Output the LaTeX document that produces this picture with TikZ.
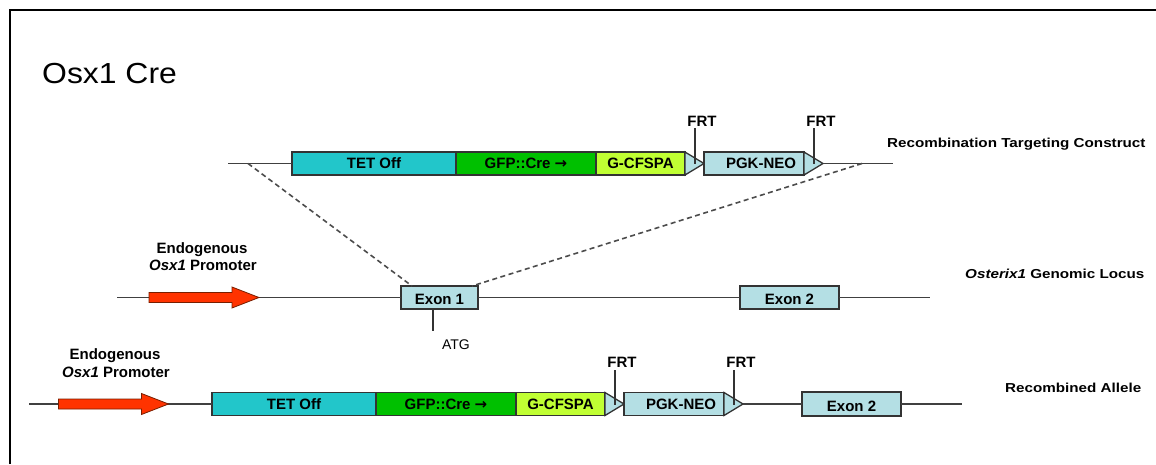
\documentclass[tikz,border=0pt]{standalone}
\usepackage{fontspec}
\usepackage{graphicx}
\setmainfont{Liberation Sans}
\newfontfamily\arrowfont{DejaVu Sans}
\usetikzlibrary{calc}

\definecolor{tetcol}{RGB}{34,198,202}
\definecolor{gfpcol}{RGB}{0,192,0}
\definecolor{pacol}{RGB}{192,255,51}
\definecolor{neocol}{RGB}{180,223,228}
\definecolor{promred}{RGB}{255,51,0}
\definecolor{promedge}{RGB}{120,30,0}
\definecolor{edgecol}{RGB}{51,51,51}
\definecolor{dnacol}{RGB}{64,64,64}

% horizontally widened text
\newcommand{\stretchx}[2]{\scalebox{#1}[1]{#2}}
% bold right arrow after the Cre label
\newcommand{\rarr}{{\arrowfont\bfseries →}}

\begin{document}
\begin{tikzpicture}[x=1pt,y=-1pt,
  box/.style={rectangle, draw=edgecol, line width=1.3pt, minimum height=23pt,
    inner sep=0pt, outer sep=0pt, anchor=west, font=\fontsize{15}{17}\selectfont\bfseries},
  exon/.style={box, fill=neocol, text height=14pt, text depth=0pt},
  frttri/.style={draw=edgecol, line width=1.3pt, fill=neocol, line join=miter},
  dna/.style={draw=dnacol, line width=1.3pt},
  tick/.style={draw=black!80, line width=1.3pt},
  cross/.style={draw=black!70, line width=1.6pt, dash pattern=on 5pt off 3.5pt},
  lbl/.style={inner sep=0pt, anchor=base, font=\fontsize{15}{17}\selectfont\bfseries},
  side/.style={inner sep=0pt, anchor=base west, font=\fontsize{13}{15}\selectfont\bfseries},
  promoter/.pic={\path[fill=promred, draw=promedge, line width=0.8pt]
    (-55,-5) -- (28,-5) -- (28,-10.5) -- (55,0) -- (28,10.5) -- (28,5) -- (-55,5) -- cycle;}
]
\useasboundingbox (0,0) rectangle (1156,464);

% frame
\draw[line width=2.5pt] (10,464) -- (10,10) -- (1156,10);

% title
\node[inner sep=0pt, anchor=base west, font=\fontsize{29}{32}\selectfont]
  (title) at (42,83) {\stretchx{1.1}{Osx1 Cre}};

% ---------- targeting construct ----------
\coordinate (c1start) at (228,163.5);
\coordinate (c1end) at (893,163.5);
\coordinate (cut1) at (248,163.5);
\coordinate (cut2) at (862,163.5);
\node[box, fill=tetcol, minimum width=164pt] (tet1) at (292,163.5) {TET Off};
\node[box, fill=gfpcol, minimum width=140pt] (gfp1) at (tet1.east) {GFP::Cre \rarr};
\node[box, fill=pacol, minimum width=89pt] (pa1) at (gfp1.east) {G-CFSPA};
\coordinate (f1tip) at ($(pa1.east)+(19,0)$);
\draw[frttri] (pa1.north east) -- (f1tip) -- (pa1.south east) -- cycle;
\node[box, fill=neocol, minimum width=100pt] (neo1) at (f1tip) {\hspace*{14pt}PGK-NEO};
\coordinate (f2tip) at ($(neo1.east)+(19,0)$);
\draw[frttri] (neo1.north east) -- (f2tip) -- (neo1.south east) -- cycle;
\draw[dna] (c1start) -- (tet1.west);
\draw[dna] (f2tip) -- (c1end);
\coordinate (frt1top) at (695,128);
\coordinate (frt1bot) at (695,164);
\coordinate (frt2top) at (814,128);
\coordinate (frt2bot) at (814,164);
\draw[tick] (frt1top) -- (frt1bot);
\draw[tick] (frt2top) -- (frt2bot);
\node[lbl] (frt1) at (702,126) {FRT};
\node[lbl] (frt2) at (821,126) {FRT};
\node[side] (construct) at (887,147) {\stretchx{1.17}{Recombination Targeting Construct}};

% ---------- genomic locus ----------
\coordinate (g2start) at (117,297.5);
\coordinate (g2end) at (930,297.5);
\node[exon, minimum width=77pt] (ex1) at (401,297.5) {Exon 1};
\node[exon, minimum width=99pt] (ex2) at (740,297.5) {Exon 2};
\draw[dna] (g2start) -- (ex1.west);
\draw[dna] (ex1.east) -- (ex2.west);
\draw[dna] (ex2.east) -- (g2end);
\pic at (204,297.5) {promoter};
\coordinate (atgend) at (433,331);
\draw[tick] (ex1.south -| atgend) -- (atgend);
\node[inner sep=0pt, anchor=base, font=\fontsize{14}{16}\selectfont] (atg) at (456,349) {ATG};
\draw[cross] (cut1) -- ($(ex1.north west)+(11,0)$);
\draw[cross] (cut2) -- ($(ex1.north east)+(-6,0)$);
\node[lbl] (endo2) at (202,253) {Endogenous};
\node[lbl] (prom2) at (203,270) {{\itshape Osx1} Promoter};
\node[side] (locus) at (965,278) {\stretchx{1.17}{{\itshape Osterix1} Genomic Locus}};

% ---------- recombined allele ----------
\coordinate (r3start) at (29,404);
\coordinate (r3end) at (962,404);
\node[box, fill=tetcol, minimum width=164pt] (tet3) at (212,404) {TET Off};
\node[box, fill=gfpcol, minimum width=140pt] (gfp3) at (tet3.east) {GFP::Cre \rarr};
\node[box, fill=pacol, minimum width=89pt] (pa3) at (gfp3.east) {G-CFSPA};
\coordinate (f3tip) at ($(pa3.east)+(19,0)$);
\draw[frttri] (pa3.north east) -- (f3tip) -- (pa3.south east) -- cycle;
\node[box, fill=neocol, minimum width=100pt] (neo3) at (f3tip) {\hspace*{14pt}PGK-NEO};
\coordinate (f4tip) at ($(neo3.east)+(19,0)$);
\draw[frttri] (neo3.north east) -- (f4tip) -- (neo3.south east) -- cycle;
\node[exon, minimum width=99pt, minimum height=24pt] (ex3) at (802,404) {Exon 2};
\draw[dna] (r3start) -- (tet3.west);
\draw[dna] (f4tip) -- (ex3.west);
\draw[dna] (ex3.east) -- (r3end);
\pic at (113.5,404) {promoter};
\coordinate (frt3top) at (615,370);
\coordinate (frt3bot) at (615,405);
\coordinate (frt4top) at (734,370);
\coordinate (frt4bot) at (734,405);
\draw[tick] (frt3top) -- (frt3bot);
\draw[tick] (frt4top) -- (frt4bot);
\node[lbl] (frt3) at (622,367) {FRT};
\node[lbl] (frt4) at (741,367) {FRT};
\node[lbl] (endo3) at (115,359) {Endogenous};
\node[lbl] (prom3) at (116,377) {{\itshape Osx1} Promoter};
\node[side] (allele) at (1005,392) {\stretchx{1.17}{Recombined Allele}};
\end{tikzpicture}
\end{document}
